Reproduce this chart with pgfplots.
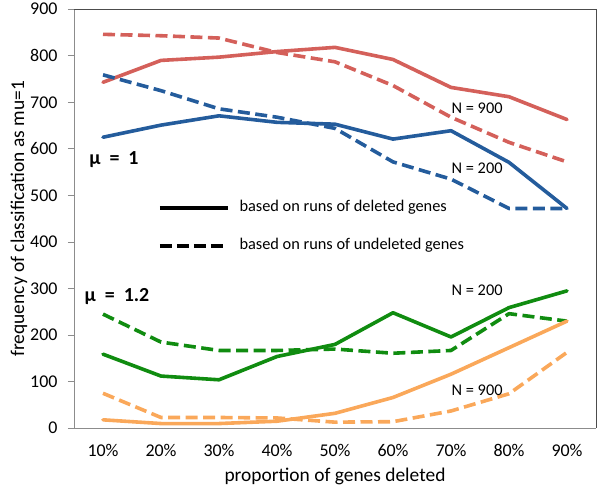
\documentclass[border=0pt]{standalone}
\usepackage{fontspec}
\setmainfont{Carlito}
\usepackage{pgfplots}
\usepackage{pgfplotstable}
\pgfplotsset{compat=1.18}
\definecolor{cred}{RGB}{212,96,90}
\definecolor{cblue}{RGB}{36,92,156}
\definecolor{cgreen}{RGB}{16,140,16}
\definecolor{corange}{RGB}{250,168,90}

% columns: r/b = mu 1 (N=900 / N=200), g/o = mu 1.2 (N=200 / N=900)
% s = runs of deleted genes, d = runs of undeleted genes
\pgfplotstableread{
x  rs  rd  bs  bd  gs  gd  os  od
1  743 846 625 759 159 245 18  75
2  790 843 651 725 112 185 10  23
3  797 838 671 686 104 167 10  23
4  809 807 657 668 154 167 15  22
5  818 787 653 644 180 170 32  13
6  792 736 621 572 248 161 66  14
7  732 668 639 535 196 167 116 37
8  712 614 571 472 259 246 173 74
9  663 572 472 472 295 230 230 163
}\freq

\begin{document}
\begin{tikzpicture}
\begin{axis}[
    scale only axis,
    width=522bp, height=419bp,
    xmin=0.5, xmax=9.5,
    ymin=0, ymax=900,
    xtick={1,...,9},
    xticklabels={10\%,20\%,30\%,40\%,50\%,60\%,70\%,80\%,90\%},
    ytick={0,100,...,900},
    axis lines*=left,
    axis line style={draw=black!45, line width=0.8bp},
    x axis line style={-},
    y axis line style={-},
    tick align=outside,
    xtick style={draw=none},
    ytick style={draw=black!45, line width=0.8bp},
    major tick length=6bp,
    /pgf/number format/assume math mode=true,
    tick label style={font=\fontsize{18}{21}\selectfont},
    yticklabel style={xshift=-7bp},
    xticklabel style={yshift=-7bp},
    xlabel={proportion of genes deleted},
    ylabel={frequency of classification as mu=1},
    xlabel style={yshift=-4bp},
    ylabel style={yshift=-4bp},
    label style={font=\fontsize{19.5}{23}\selectfont},
    every axis plot/.append style={line width=3.6bp, line join=round},
    clip=false,
]
\addplot[cred, line cap=round] table[x=x, y=rs] {\freq};
\addplot[cred, dash pattern=on 12bp off 5.5bp] table[x=x, y=rd] {\freq};
\addplot[cblue, line cap=round] table[x=x, y=bs] {\freq};
\addplot[cblue, dash pattern=on 12bp off 5.5bp] table[x=x, y=bd] {\freq};
\addplot[cgreen, line cap=round] table[x=x, y=gs] {\freq};
\addplot[cgreen, dash pattern=on 12bp off 5.5bp] table[x=x, y=gd] {\freq};
\addplot[corange, line cap=round] table[x=x, y=os] {\freq};
\addplot[corange, dash pattern=on 12bp off 5.5bp] table[x=x, y=od] {\freq};

% plot area border (top and right)
\draw[black!70, line width=0.8bp] (rel axis cs:0,1) -- (rel axis cs:1,1) -- (rel axis cs:1,0);

% legend
\draw[black, line width=4bp] (axis cs:1.98,474) -- (axis cs:3.15,474);
\draw[black, line width=4bp, dash pattern=on 12bp off 5bp] (axis cs:1.98,392) -- (axis cs:3.15,392);
\node[anchor=west, inner sep=0pt, font=\fontsize{16.4}{19}\selectfont] at (axis cs:3.35,474) {based on runs of deleted genes};
\node[anchor=west, inner sep=0pt, font=\fontsize{16.4}{19}\selectfont] at (axis cs:3.35,392) {based on runs of undeleted genes};

% annotations
\node[anchor=west, inner sep=0pt, font=\fontsize{20}{24}\selectfont\bfseries] at (axis cs:0.76,578) {μ\ \ =\ \ 1};
\node[anchor=west, inner sep=0pt, font=\fontsize{20}{24}\selectfont\bfseries] at (axis cs:0.68,282) {μ\ \ =\ \ 1.2};
\node[font=\fontsize{16.4}{19}\selectfont] at (axis cs:7.45,687) {N = 900};
\node[font=\fontsize{16.4}{19}\selectfont] at (axis cs:7.45,559) {N = 200};
\node[font=\fontsize{16.4}{19}\selectfont] at (axis cs:7.45,297) {N = 200};
\node[font=\fontsize{16.4}{19}\selectfont] at (axis cs:7.45,82) {N = 900};

% page margins
\path (rel axis cs:0,0) ++(-74bp,-67bp) coordinate (ll);
\path (rel axis cs:1,1) ++(4bp,7bp) coordinate (ur);
\path (ll) rectangle (ur);
\end{axis}
\end{tikzpicture}
\end{document}
